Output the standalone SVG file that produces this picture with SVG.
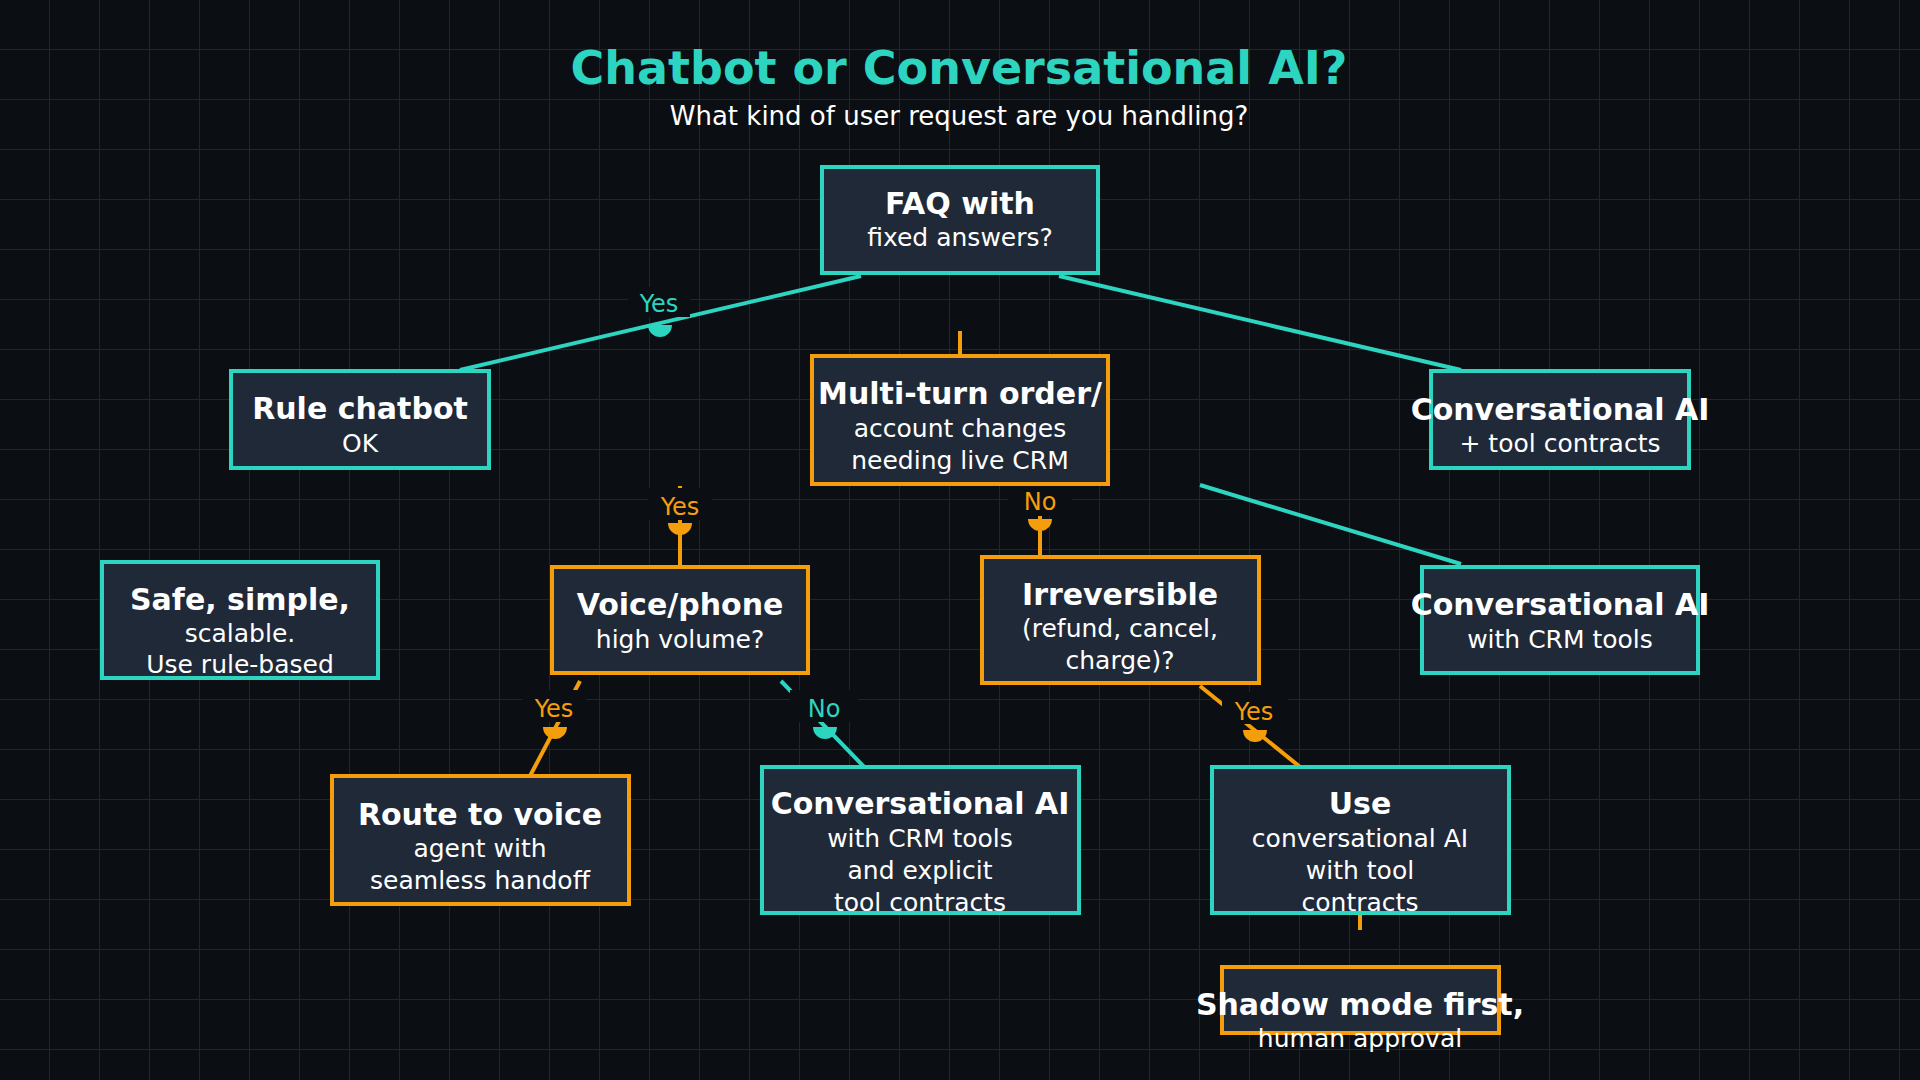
<svg xmlns="http://www.w3.org/2000/svg" width="1920" height="1080" viewBox="0 0 1920 1080">
<defs>
<pattern id="grid" width="50" height="50" patternUnits="userSpaceOnUse"><path d="M50 0V50M0 50H50" fill="none" stroke="#1e2533" stroke-width="2"/></pattern>
<style>
.t{fill:#fff;font-family:"DejaVu Sans",sans-serif;text-anchor:middle}
.b{font-weight:bold;font-size:30px}
.s{font-size:25px}
.teal{fill:#202938;stroke:#2dd4bf;stroke-width:4}
.or{fill:#202938;stroke:#f59e0b;stroke-width:4}
.lt{stroke:#2dd4bf;stroke-width:4;fill:none}
.lo{stroke:#f59e0b;stroke-width:4;fill:none}
.lbl{font-family:"DejaVu Sans",sans-serif;font-size:24px;text-anchor:middle}
.bg{fill:#0b0e13}
</style>
</defs>
<rect width="1920" height="1080" fill="#0b0e13"/>
<rect width="1920" height="1080" fill="url(#grid)"/>
<text x="959" y="84" font-family="DejaVu Sans,sans-serif" font-weight="bold" font-size="46" fill="#2dd4bf" text-anchor="middle">Chatbot or Conversational AI?</text>
<text x="959" y="125" class="t" font-size="26">What kind of user request are you handling?</text>
<g id="connectors">
<line class="lt" x1="861" y1="276" x2="460" y2="370"/>
<rect class="bg" x="628" y="287" width="62" height="30"/>
<text class="lbl" x="659" y="312" fill="#2dd4bf">Yes</text>
<path d="M648 325a12 12 0 0 0 24 0z" fill="#2dd4bf"/>
<line class="lt" x1="1059" y1="276" x2="1461" y2="370"/>
<line class="lo" x1="960" y1="331" x2="960" y2="356"/>
<line class="lt" x1="1200" y1="485" x2="1461" y2="564"/>
<line class="lo" x1="680" y1="486" x2="680" y2="567"/>
<rect class="bg" x="648" y="488" width="64" height="32"/>
<text class="lbl" x="680" y="515" fill="#f59e0b">Yes</text>
<path d="M668 523a12 12 0 0 0 24 0z" fill="#f59e0b"/>
<line class="lo" x1="1040" y1="505" x2="1040" y2="557"/>
<rect class="bg" x="1008" y="484" width="64" height="32"/>
<text class="lbl" x="1040" y="510" fill="#f59e0b">No</text>
<path d="M1028 519a12 12 0 0 0 24 0z" fill="#f59e0b"/>
<line class="lo" x1="580" y1="681" x2="530" y2="776"/>
<rect class="bg" x="522" y="690" width="64" height="32"/>
<text class="lbl" x="554" y="717" fill="#f59e0b">Yes</text>
<path d="M543 727a12 12 0 0 0 24 0z" fill="#f59e0b"/>
<line class="lt" x1="781" y1="681" x2="871" y2="774"/>
<rect class="bg" x="790" y="690" width="68" height="32"/>
<text class="lbl" x="824" y="717" fill="#2dd4bf">No</text>
<path d="M813 727a12 12 0 0 0 24 0z" fill="#2dd4bf"/>
<line class="lo" x1="1200" y1="686" x2="1310" y2="775"/>
<rect class="bg" x="1222" y="692" width="66" height="32"/>
<text class="lbl" x="1254" y="720" fill="#f59e0b">Yes</text>
<path d="M1243 730a12 12 0 0 0 24 0z" fill="#f59e0b"/>
<line class="lo" x1="1360" y1="913" x2="1360" y2="930"/>
</g>
<g id="faq"><rect class="teal" x="822" y="167" width="276" height="106"/><text class="t b" x="960" y="214">FAQ with</text><text class="t s" x="960" y="246">fixed answers?</text></g>
<g id="rule"><rect class="teal" x="231" y="371" width="258" height="97"/><text class="t b" x="360" y="419">Rule chatbot</text><text class="t s" x="360" y="452">OK</text></g>
<g id="multi"><rect class="or" x="812" y="356" width="296" height="128"/><text class="t b" x="960" y="404">Multi-turn order/</text><text class="t s" x="960" y="437">account changes</text><text class="t s" x="960" y="469">needing live CRM</text></g>
<g id="convtool"><rect class="teal" x="1431" y="371" width="258" height="97"/><text class="t b" x="1560" y="420">Conversational AI</text><text class="t s" x="1560" y="452">+ tool contracts</text></g>
<g id="safe"><rect class="teal" x="102" y="562" width="276" height="116"/><text class="t b" x="240" y="610">Safe, simple,</text><text class="t s" x="240" y="642">scalable.</text><text class="t s" x="240" y="673">Use rule-based</text></g>
<g id="voice"><rect class="or" x="552" y="567" width="256" height="106"/><text class="t b" x="680" y="615">Voice/phone</text><text class="t s" x="680" y="648">high volume?</text></g>
<g id="irr"><rect class="or" x="982" y="557" width="277" height="126"/><text class="t b" x="1120" y="605">Irreversible</text><text class="t s" x="1120" y="637">(refund, cancel,</text><text class="t s" x="1120" y="669">charge)?</text></g>
<g id="convcrm"><rect class="teal" x="1422" y="567" width="276" height="106"/><text class="t b" x="1560" y="615">Conversational AI</text><text class="t s" x="1560" y="648">with CRM tools</text></g>
<g id="route"><rect class="or" x="332" y="776" width="297" height="128"/><text class="t b" x="480" y="825">Route to voice</text><text class="t s" x="480" y="857">agent with</text><text class="t s" x="480" y="889">seamless handoff</text></g>
<g id="convexp"><rect class="teal" x="762" y="767" width="317" height="146"/><text class="t b" x="920" y="814">Conversational AI</text><text class="t s" x="920" y="847">with CRM tools</text><text class="t s" x="920" y="879">and explicit</text><text class="t s" x="920" y="911">tool contracts</text></g>
<g id="use"><rect class="teal" x="1212" y="767" width="297" height="146"/><text class="t b" x="1360" y="814">Use</text><text class="t s" x="1360" y="847">conversational AI</text><text class="t s" x="1360" y="879">with tool</text><text class="t s" x="1360" y="911">contracts</text></g>
<g id="shadow"><rect class="or" x="1222" y="967" width="277" height="66"/><text class="t b" x="1360" y="1015">Shadow mode first,</text><text class="t s" x="1360" y="1047">human approval</text></g>
</svg>
